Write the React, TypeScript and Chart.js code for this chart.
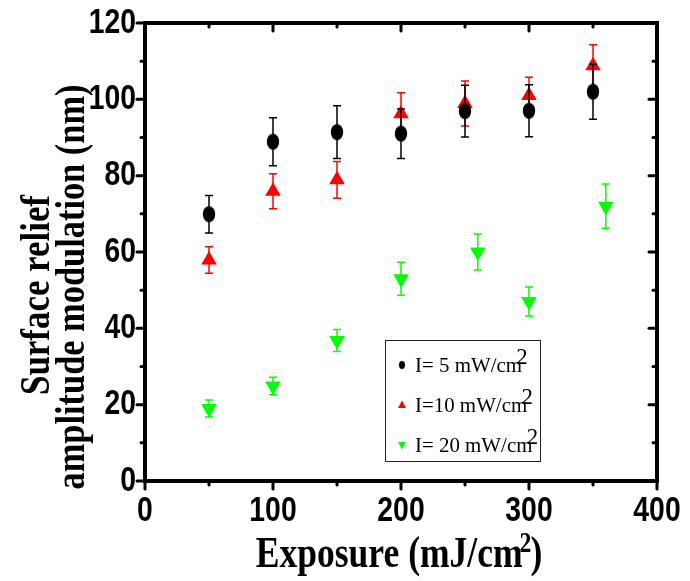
import React, { useEffect, useRef } from 'react';
import { Chart, registerables } from 'chart.js';
Chart.register(...registerables);

// ---- data ----
const exposure5 = [50, 100, 150, 200, 250, 300, 350];
const amp5 = [69.9, 88.9, 91.4, 91, 96.9, 97, 102];
const err5 = [4.9, 6.3, 6.9, 6.5, 6.8, 6.8, 7.2];

const exposure10 = [50, 100, 150, 200, 250, 300, 350];
const amp10 = [57.9, 75.9, 78.9, 96.2, 98.9, 101, 108.8];
const err10 = [3.5, 4.6, 4.8, 5.5, 5.9, 4.8, 5.5];

const exposure20 = [50, 100, 150, 200, 260, 300, 360];
const amp20 = [19, 24.9, 36.8, 53, 60, 47, 72];
const err20 = [2.2, 2.3, 2.9, 4.3, 4.7, 3.8, 5.8];

const seriesNames = ['I= 5 mW/cm', 'I=10 mW/cm', 'I= 20 mW/cm'];
const seriesColors = ['#000000', '#ff0000', '#00ff00'];

const xTickLabels = [0, 100, 200, 300, 400];
const xMinorTicks = [50, 150, 250, 350];
const yTickLabels = [0, 20, 40, 60, 80, 100, 120];
const yMinorTicks = [10, 30, 50, 70, 90, 110];

const xTitle = 'Exposure (mJ/cm';
const yTitleLines = ['Surface relief', 'amplitude modulation (nm)'];

function makeEllipse(color: string) {
  const c = document.createElement('canvas');
  c.width = 14;
  c.height = 18;
  const g = c.getContext('2d')!;
  g.fillStyle = color;
  g.beginPath();
  g.ellipse(7, 9, 6.2, 8, 0, 0, Math.PI * 2);
  g.fill();
  return c;
}

function drawText(ctx: CanvasRenderingContext2D, text: string, x: number, y: number, font: string, align: CanvasTextAlign, baseline: CanvasTextBaseline, sx: number) {
  ctx.save();
  ctx.translate(x, y);
  ctx.scale(sx, 1);
  ctx.font = font;
  ctx.textAlign = align;
  ctx.textBaseline = baseline;
  ctx.fillStyle = '#000';
  ctx.fillText(text, 0, 0);
  ctx.restore();
}

const errorBarPlugin = {
  id: 'errorBars',
  beforeDatasetDraw(chart: any, args: any) {
    const ds = chart.data.datasets[args.index];
    const errs: number[] = ds.errors;
    if (!errs) return;
    const ctx = chart.ctx;
    const xs = chart.scales.x;
    const ys = chart.scales.y;
    ctx.save();
    ctx.strokeStyle = ds.errorColor;
    ctx.lineWidth = 1.5;
    ds.data.forEach((p: any, i: number) => {
      const px = xs.getPixelForValue(p.x);
      const t = ys.getPixelForValue(p.y + errs[i]);
      const b = ys.getPixelForValue(p.y - errs[i]);
      ctx.beginPath();
      ctx.moveTo(px, t);
      ctx.lineTo(px, b);
      ctx.moveTo(px - 4, t);
      ctx.lineTo(px + 4, t);
      ctx.moveTo(px - 4, b);
      ctx.lineTo(px + 4, b);
      ctx.stroke();
    });
    ctx.restore();
  },
};

const framePlugin = {
  id: 'frame',
  afterDraw(chart: any) {
    const ctx: CanvasRenderingContext2D = chart.ctx;
    const { left, right, top, bottom } = chart.chartArea;
    const xs = chart.scales.x;
    const ys = chart.scales.y;
    ctx.save();
    // ticks
    ctx.strokeStyle = '#000';
    ctx.lineCap = 'round';
    ctx.lineWidth = 3;
    const tick = (x1: number, y1: number, x2: number, y2: number) => {
      ctx.beginPath();
      ctx.moveTo(x1, y1);
      ctx.lineTo(x2, y2);
      ctx.stroke();
    };
    yTickLabels.forEach((v) => {
      const py = ys.getPixelForValue(v);
      tick(left - 8, py, left, py);
      tick(right, py, right - 8, py);
    });
    yMinorTicks.forEach((v) => {
      const py = ys.getPixelForValue(v);
      tick(left - 4, py, left, py);
      tick(right, py, right - 4, py);
    });
    xTickLabels.forEach((v) => {
      const px = xs.getPixelForValue(v);
      tick(px, bottom + 8, px, bottom);
      tick(px, top, px, top + 8);
    });
    xMinorTicks.forEach((v) => {
      const px = xs.getPixelForValue(v);
      tick(px, bottom + 4, px, bottom);
      tick(px, top, px, top + 4);
    });
    // frame
    ctx.lineCap = 'butt';
    ctx.lineWidth = 4;
    ctx.strokeRect(left, top, right - left, bottom - top);

    // tick labels
    const tf = 'bold 35px "Liberation Sans", Arial, sans-serif';
    yTickLabels.forEach((v) => {
      drawText(ctx, String(v), left - 9, ys.getPixelForValue(v), tf, 'right', 'middle', 0.81);
    });
    xTickLabels.forEach((v) => {
      drawText(ctx, String(v), xs.getPixelForValue(v), 511, tf, 'center', 'middle', 0.81);
    });

    // x title
    const mainFont = 'bold 45px "Liberation Serif", "Times New Roman", serif';
    const supFont = 'bold 30px "Liberation Serif", "Times New Roman", serif';
    const sx = 0.79;
    ctx.font = mainFont;
    const wMain = ctx.measureText(xTitle).width * sx;
    const wParen = ctx.measureText(')').width * sx;
    ctx.font = supFont;
    const wSup = ctx.measureText('2').width * sx;
    const total = wMain + wSup + wParen - 4;
    const cx = (left + right) / 2 - 2;
    const x0 = cx - total / 2;
    drawText(ctx, xTitle, x0, 567, mainFont, 'left', 'alphabetic', sx);
    drawText(ctx, '2', x0 + wMain - 3, 552, supFont, 'left', 'alphabetic', sx);
    drawText(ctx, ')', x0 + wMain - 4 + wSup, 567, mainFont, 'left', 'alphabetic', sx);

    // y title
    const yFont = 'bold 42px "Liberation Serif", "Times New Roman", serif';
    const yPos = [49, 84];
    const yCent = [295, 287];
    const yLen = [200, 405];
    yTitleLines.forEach((line, i) => {
      ctx.save();
      ctx.font = yFont;
      const w = ctx.measureText(line).width;
      ctx.translate(yPos[i], yCent[i]);
      ctx.rotate(-Math.PI / 2);
      ctx.scale(yLen[i] / w, 1);
      ctx.textAlign = 'center';
      ctx.textBaseline = 'alphabetic';
      ctx.fillStyle = '#000';
      ctx.fillText(line, 0, 0);
      ctx.restore();
    });

    // legend
    ctx.lineWidth = 1;
    ctx.strokeStyle = '#222';
    ctx.strokeRect(385.5, 340.5, 155, 121);
    const rowsY = [372, 412, 452];
    const lf = '22px "Liberation Serif", "Times New Roman", serif';
    const sf = '24px "Liberation Serif", "Times New Roman", serif';
    seriesNames.forEach((name, i) => {
      const by = rowsY[i];
      const sy = by - 7;
      ctx.fillStyle = seriesColors[i];
      ctx.beginPath();
      if (i === 0) {
        ctx.ellipse(402, sy, 3, 4, 0, 0, Math.PI * 2);
      } else if (i === 1) {
        ctx.moveTo(402, sy - 4.5);
        ctx.lineTo(406, sy + 3);
        ctx.lineTo(398, sy + 3);
        ctx.closePath();
      } else {
        ctx.moveTo(402, sy + 4.5);
        ctx.lineTo(406, sy - 3);
        ctx.lineTo(398, sy - 3);
        ctx.closePath();
      }
      ctx.fill();
      ctx.save();
      ctx.translate(415, by);
      ctx.scale(0.95, 1);
      ctx.font = lf;
      ctx.fillStyle = '#000';
      ctx.textAlign = 'left';
      ctx.textBaseline = 'alphabetic';
      ctx.fillText(name, 0, 0);
      const w = ctx.measureText(name).width;
      ctx.font = sf;
      ctx.fillText('2', w - 6, -8);
      ctx.restore();
    });
    ctx.restore();
  },
};

export default function App() {
  const ref = useRef<HTMLCanvasElement>(null);
  useEffect(() => {
    if (!ref.current) return;
    const ellipse = makeEllipse(seriesColors[0]);
    const toPts = (xs: number[], ys: number[]) => xs.map((x, i) => ({ x, y: ys[i] }));
    const chart = new Chart(ref.current, {
      type: 'scatter',
      data: {
        datasets: [
          {
            label: seriesNames[0],
            data: toPts(exposure5, amp5),
            errors: err5,
            errorColor: seriesColors[0],
            pointStyle: ellipse,
            pointRadius: 8,
            backgroundColor: seriesColors[0],
            borderWidth: 0,
          } as any,
          {
            label: seriesNames[1],
            data: toPts(exposure10, amp10),
            errors: err10,
            errorColor: seriesColors[1],
            pointStyle: 'triangle',
            pointRadius: 9,
            backgroundColor: seriesColors[1],
            borderWidth: 0,
          } as any,
          {
            label: seriesNames[2],
            data: toPts(exposure20, amp20),
            errors: err20,
            errorColor: seriesColors[2],
            pointStyle: 'triangle',
            rotation: 180,
            pointRadius: 9,
            backgroundColor: seriesColors[2],
            borderWidth: 0,
          } as any,
        ],
      },
      options: {
        animation: false,
        responsive: false,
        devicePixelRatio: 1,
        layout: { padding: { top: 23, right: 33, left: 0, bottom: 0 } },
        plugins: { legend: { display: false }, tooltip: { enabled: false } },
        scales: {
          x: {
            type: 'linear',
            min: 0,
            max: 400,
            ticks: { display: false },
            grid: { display: false },
            border: { display: false },
            afterFit: (s: any) => { s.height = 100; },
          },
          y: {
            type: 'linear',
            min: 0,
            max: 120,
            ticks: { display: false },
            grid: { display: false },
            border: { display: false },
            afterFit: (s: any) => { s.width = 145; },
          },
        },
      } as any,
      plugins: [errorBarPlugin, framePlugin],
    });
    return () => chart.destroy();
  }, []);
  return (
    <div style={{ position: 'absolute', left: 0, top: 0, width: 690, height: 581, background: '#fff' }}>
      <canvas ref={ref} width={690} height={581} style={{ display: 'block' }} />
    </div>
  );
}
